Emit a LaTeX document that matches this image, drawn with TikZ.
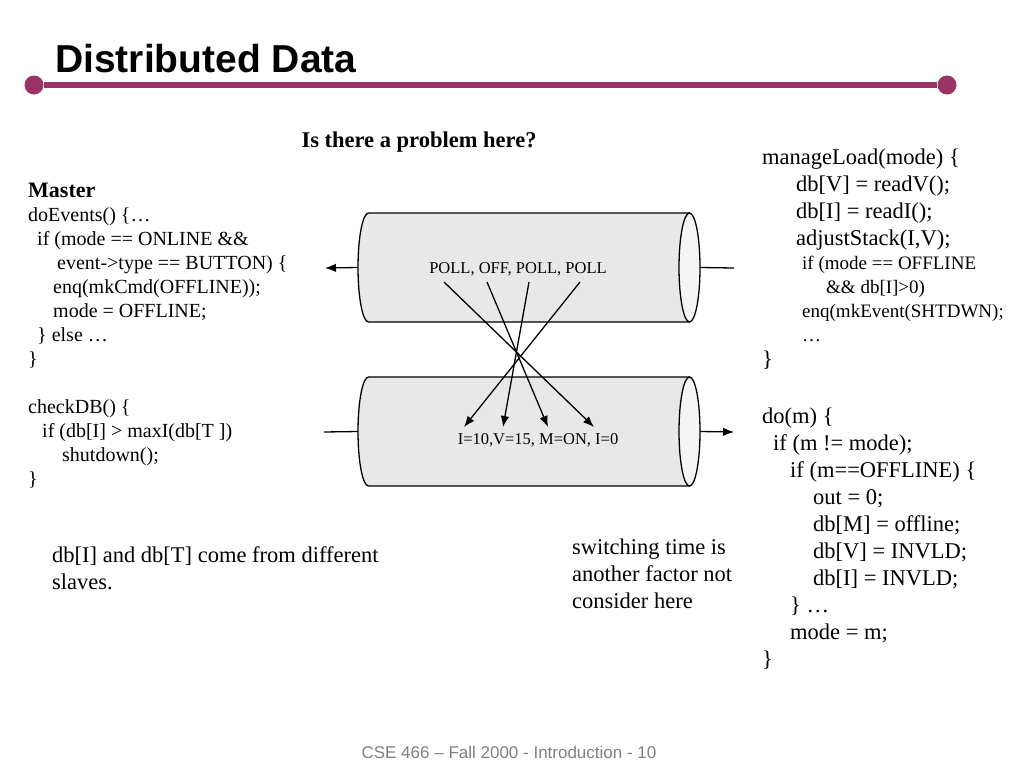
\documentclass[tikz,border=0pt]{standalone}
\usepackage{fontspec}
\setmainfont{Liberation Serif}
\setsansfont{Liberation Sans}
\usetikzlibrary{arrows.meta}
\definecolor{slideRuleCol}{HTML}{993366}
\definecolor{slideFootCol}{HTML}{808080}
\definecolor{pipeBody}{HTML}{E8E8E8}
\definecolor{pipeEnd}{HTML}{F4F4F4}
\newcommand\smallCode{\fontsize{19}{24}\selectfont}
\tikzset{
  slideTitle/.style={
    anchor=base west,
    inner sep=0pt,
    font=\sffamily\bfseries\fontsize{39}{44}\selectfont
  },
  ruleDot/.style={
    circle,
    fill=slideRuleCol,
    minimum size=19pt,
    inner sep=0pt
  },
  slideRule/.style={
    draw=slideRuleCol,
    line width=6pt
  },
  slideHead/.style={
    anchor=base,
    inner sep=0pt,
    font=\bfseries\fontsize{22.5}{27}\selectfont
  },
  masterCode/.style={
    anchor=base west,
    align=left,
    inner sep=0pt,
    font=\fontsize{20}{24}\selectfont
  },
  slideCode/.style={
    anchor=base west,
    align=left,
    inner sep=0pt,
    font=\fontsize{22.5}{27}\selectfont
  },
  slideFoot/.style={
    anchor=base,
    inner sep=0pt,
    text=slideFootCol,
    font=\sffamily\fontsize{17}{20}\selectfont
  },
  pipeBox/.style={
    minimum width=342pt,
    minimum height=109pt,
    inner sep=0pt,
    outer sep=0pt
  },
  pipeShape/.style={
    draw,
    line width=1.3pt,
    fill=pipeBody
  },
  pipeText/.style={
    inner sep=0pt,
    font=\fontsize{16.5}{20}\selectfont
  },
  flowArrow/.style={
    -{Latex[length=11pt,width=8.5pt]},
    line width=1.3pt
  },
  pipeLine/.style={
    line width=1.3pt
  }
}

\begin{document}
\begin{tikzpicture}[x=1pt,y=-1pt]
\useasboundingbox (0,0) rectangle (1024,768);

% Title and rule.
\node[slideTitle] (title) at (55,72) {Distributed Data};
\node[ruleDot] (ruleL) at (34,85) {};
\node[ruleDot] (ruleR) at (947,85) {};
\draw[slideRule] (ruleL) -- (ruleR);

\node[slideHead] (question) at (419,147) {Is there a problem here?};

% Master code on the left.
\node[masterCode] (master) at (28,485)
  {{\bfseries\fontsize{22}{24}\selectfont Master}\\
   doEvents() \{…\\
   \hspace*{9pt}if (mode == ONLINE \&\&\\
   \hspace*{29pt}event->type == BUTTON) \{\\
   \hspace*{25pt}enq(mkCmd(OFFLINE));\\
   \hspace*{25pt}mode = OFFLINE;\\
   \hspace*{9pt}\} else …\\
   \}\\[24pt]
   checkDB() \{\\
   \hspace*{14pt}if (db[I] > maxI(db[T ])\\
   \hspace*{34pt}shutdown();\\
   \}};

% The two queues.
\node[pipeBox] (cmdPipe) at (529,267.5) {};
\node[pipeBox] (dataPipe) at (529,431.5) {};
\foreach \q in {cmdPipe,dataPipe} {
  \draw[pipeShape] ([xshift=10.5pt]\q.north west) -- ([xshift=-10.5pt]\q.north east)
    -- ([xshift=-10.5pt]\q.south east) -- ([xshift=10.5pt]\q.south west)
    arc[start angle=270, end angle=90, x radius=10.5pt, y radius=54.5pt] -- cycle;
  \draw[pipeShape, fill=pipeEnd] ([xshift=-10.5pt]\q.east)
    ellipse[x radius=10.5pt, y radius=54.5pt];
}
\node[pipeText] (cmds) at (518,269) {POLL, OFF, POLL, POLL};
\node[pipeText] (vals) at (538,440) {I=10,V=15, M=ON, I=0};

\coordinate (cmdOut) at (325,268);
\coordinate (cmdIn) at (734,268);
\coordinate (dataIn) at (324,432);
\coordinate (dataOut) at (734,432);
\draw[flowArrow] (cmdPipe.west) -- (cmdOut);
\draw[pipeLine] (cmdIn) -- (cmdPipe.east);
\draw[pipeLine] (dataIn) -- (dataPipe.west);
\draw[flowArrow] (dataPipe.east) -- (dataOut);

% Crossing messages.
\coordinate (p1) at (444,282);
\coordinate (p2) at (487,282);
\coordinate (p3) at (529,282);
\coordinate (p4) at (580,282);
\coordinate (v1) at (464,427);
\coordinate (v2) at (503,427);
\coordinate (v3) at (548,427);
\coordinate (v4) at (594,427);
\draw[flowArrow] (p1) -- (v4);
\draw[flowArrow] (p2) -- (v3);
\draw[flowArrow] (p3) -- (v2);
\draw[flowArrow] (p4) -- (v1);

% Slave code on the right.
\node[slideCode] (manage) at (762,366)
  {manageLoad(mode) \{\\
   \hspace*{34pt}db[V] = readV();\\
   \hspace*{34pt}db[I] = readI();\\
   \hspace*{34pt}adjustStack(I,V);\\[-3pt]
   {\smallCode\hspace*{40pt}if (mode == OFFLINE}\\[-3pt]
   {\smallCode\hspace*{64pt}\&\& db[I]>0)}\\[-3pt]
   {\smallCode\hspace*{40pt}enq(mkEvent(SHTDWN);}\\[-3pt]
   {\smallCode\hspace*{40pt}…}\\[-2pt]
   \}};

\node[slideCode] (doM) at (762,666)
  {do(m) \{\\
   \hspace*{11pt}if (m != mode);\\
   \hspace*{28pt}if (m==OFFLINE) \{\\
   \hspace*{51pt}out = 0;\\
   \hspace*{51pt}db[M] = offline;\\
   \hspace*{51pt}db[V] = INVLD;\\
   \hspace*{51pt}db[I] = INVLD;\\
   \hspace*{28pt}\} …\\
   \hspace*{28pt}mode = m;\\
   \}};

% Notes and footer.
\node[slideCode] (slaves) at (52,589)
  {db[I] and db[T] come from different\\slaves.};
\node[slideCode] (switching) at (572,608)
  {switching time is\\another factor not\\consider here};
\node[slideFoot] (footer) at (509,758)
  {CSE 466 – Fall 2000 - Introduction - 10};

\end{tikzpicture}
\end{document}
